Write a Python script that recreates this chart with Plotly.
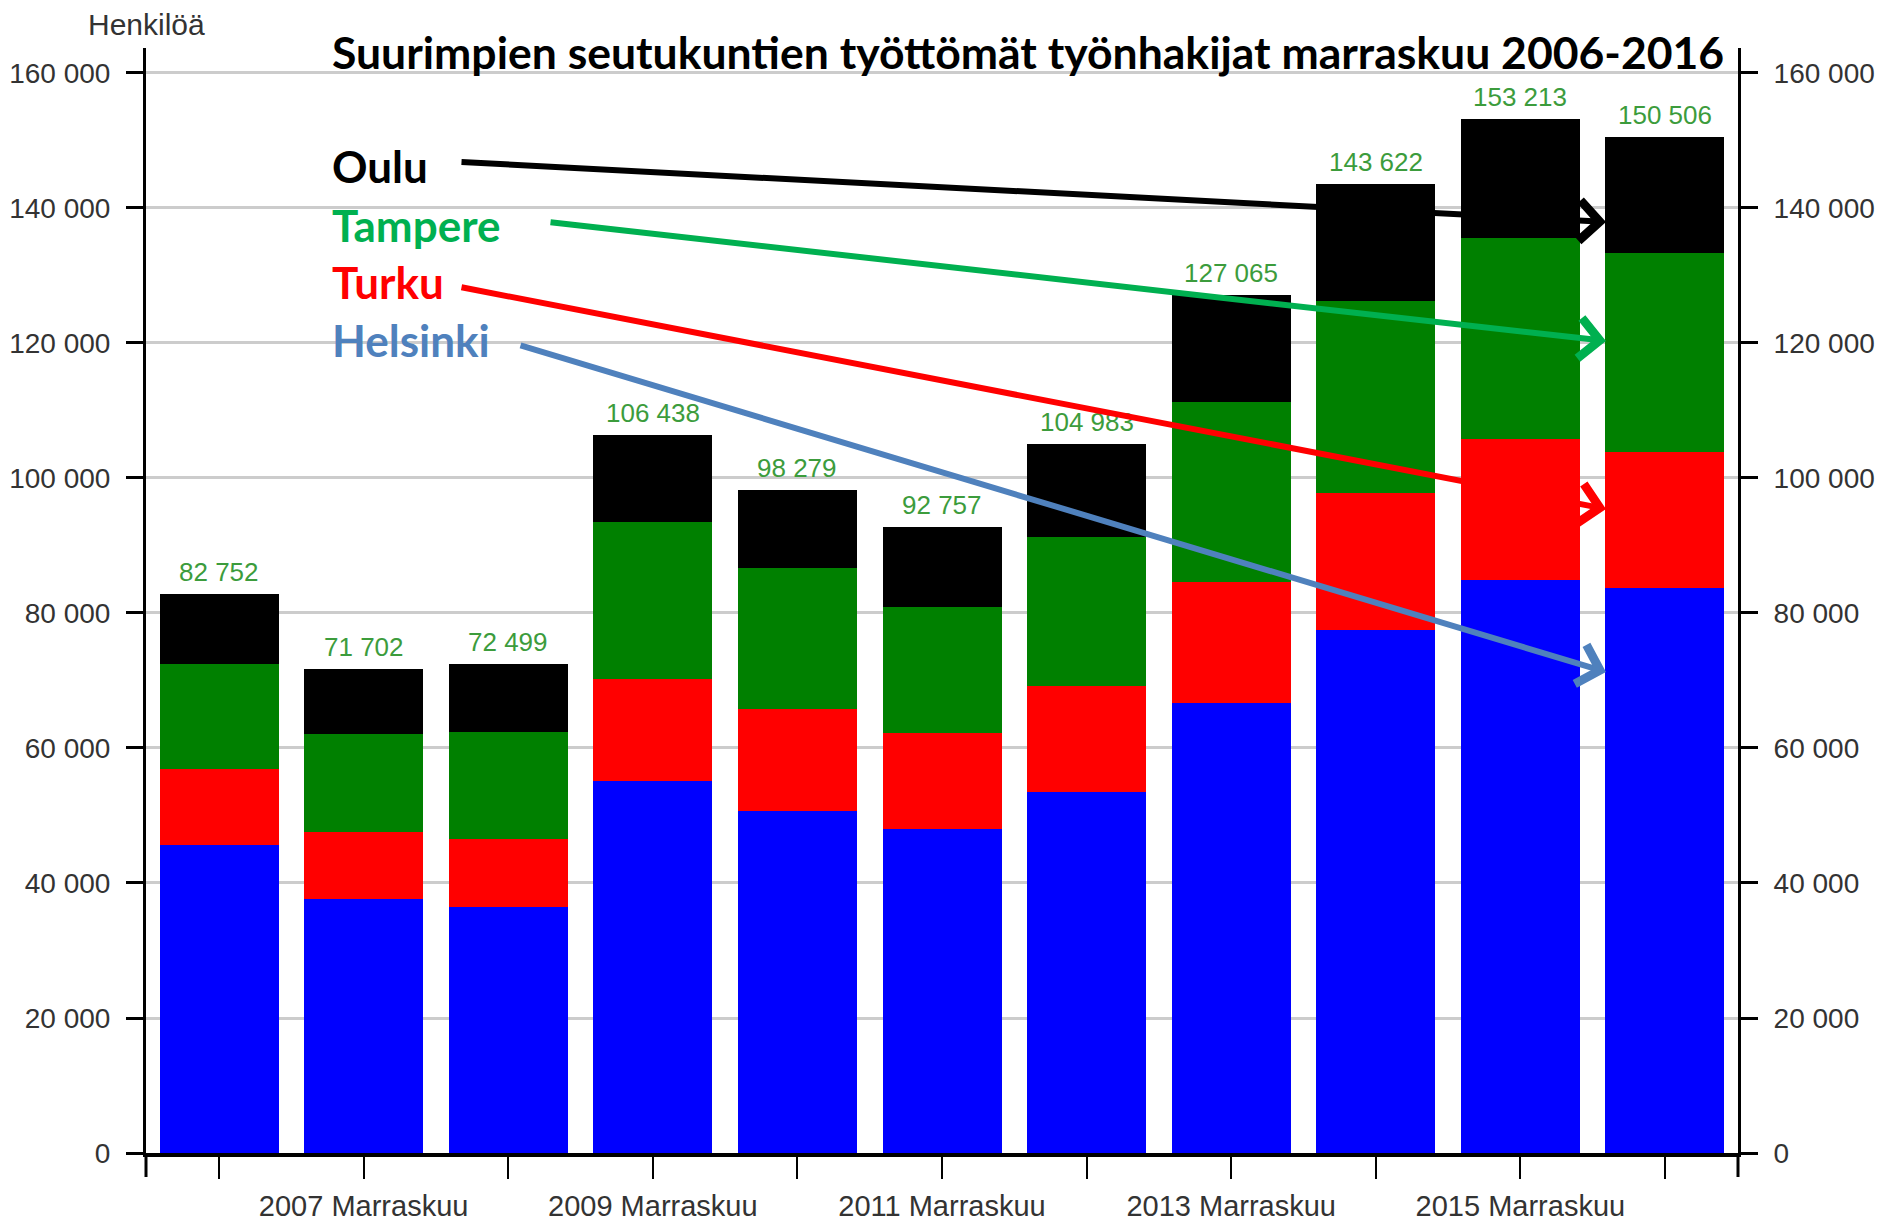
import plotly.graph_objects as go

years = [f"{y} Marraskuu" for y in range(2006, 2017)]
x_tick_labels = ["", "2007 Marraskuu", "", "2009 Marraskuu", "", "2011 Marraskuu",
                 "", "2013 Marraskuu", "", "2015 Marraskuu", ""]
helsinki = [45630, 37590, 36490, 55160, 50670, 47960, 53480, 66710, 77480, 84890, 83750]
turku = [11210, 9920, 9980, 15110, 15060, 14210, 15700, 17930, 20250, 20890, 20060]
tampere = [15600, 14560, 15860, 23260, 20890, 18780, 22030, 26660, 28490, 29730, 29480]
oulu = [10312, 9632, 10169, 12908, 11659, 11807, 13773, 15765, 17402, 17703, 17216]
totals = [82752, 71702, 72499, 106438, 98279, 92757, 104983, 127065, 143622, 153213, 150506]
y_ticks = [0, 20000, 40000, 60000, 80000, 100000, 120000, 140000, 160000]
y_tick_labels = ["0", "20 000", "40 000", "60 000", "80 000", "100 000", "120 000", "140 000", "160 000"]

title_text = "Suurimpien seutukuntien työttömät työnhakijat marraskuu 2006-2016"
legend_names = ["Oulu", "Tampere", "Turku", "Helsinki"]
legend_colors = ["#000000", "#00b050", "#ff0000", "#4f81bd"]

W, H = 1883, 1225
L, R, T, B = 146, 1738, 48, 1153
YMAX = 163700


def px(xp):
    return (xp - L) / (R - L)


def py(yp):
    return (B - yp) / (B - T)


fig = go.Figure()
for name, vals, col in [("Helsinki", helsinki, "#0000ff"), ("Turku", turku, "#ff0000"),
                        ("Tampere", tampere, "#008000"), ("Oulu", oulu, "#000000")]:
    fig.add_trace(go.Bar(x=years, y=vals, name=name, marker=dict(color=col, line=dict(width=0)),
                         showlegend=False))

# invisible trace to anchor the right axis
fig.add_trace(go.Scatter(x=years, y=totals, mode="markers", yaxis="y2", showlegend=False,
                         marker=dict(opacity=0), hoverinfo="skip"))

fmt = lambda v: f"{v:,}".replace(",", " ")
for yr, tot in zip(years, totals):
    fig.add_annotation(x=yr, y=tot, xref="x", yref="y", text=fmt(tot), showarrow=False,
                       yanchor="bottom", yshift=5,
                       font=dict(family="Liberation Sans, Arial", size=26, color="#3c9c3c"))

yfont = dict(family="Liberation Sans, Arial", size=28, color="#333333")
xfont = dict(family="Liberation Sans, Arial", size=29, color="#333333")
fig.update_layout(
    width=W, height=H,
    margin=dict(l=L, r=W - R, t=T, b=H - B, pad=0, autoexpand=False),
    paper_bgcolor="white", plot_bgcolor="white",
    barmode="stack", bargap=0.177,
    xaxis=dict(type="category", range=[-0.505, 10.505], tickvals=years, ticktext=x_tick_labels,
               ticks="outside", ticklen=22, tickwidth=2, tickcolor="black", automargin=False,
               showline=True, linecolor="black", linewidth=4, showgrid=False,
               tickfont=xfont, ticklabelstandoff=2),
    yaxis=dict(range=[0, YMAX], tickvals=y_ticks, ticktext=y_tick_labels, automargin=False,
               ticks="outside", ticklen=17, tickwidth=3, tickcolor="black",
               showline=True, linecolor="black", linewidth=3,
               showgrid=True, gridcolor="#cccccc", gridwidth=3, zeroline=False,
               tickfont=yfont, ticklabelstandoff=10),
    yaxis2=dict(range=[0, YMAX], tickvals=y_ticks, ticktext=y_tick_labels, overlaying="y", side="right",
                ticks="outside", ticklen=17, tickwidth=3, tickcolor="black", automargin=False,
                showline=True, linecolor="black", linewidth=3, showgrid=False, zeroline=False,
                tickfont=yfont, ticklabelstandoff=10),
)

# boundary ticks of x axis
for xb in (0, 1):
    fig.add_shape(type="line", xref="paper", yref="paper", x0=xb, x1=xb, y0=0, y1=-24 / (B - T),
                  line=dict(color="black", width=3))

fig.add_annotation(xref="paper", yref="paper", x=px(146), y=py(24), text="Henkilöä", showarrow=False,
                   font=dict(family="Liberation Sans, Arial", size=30, color="#333333"),
                   xanchor="center", yanchor="middle")
fig.add_annotation(xref="paper", yref="paper", x=px(330), y=py(52), text=f"<b>{title_text}</b>",
                   showarrow=False, font=dict(family="Lato", size=44.5, color="black"),
                   xanchor="left", yanchor="middle")

legend_y = [166, 225, 282, 340]
for name, col, ly in zip(legend_names, legend_colors, legend_y):
    fig.add_annotation(xref="paper", yref="paper", x=px(330), y=py(ly), text=f"<b>{name}</b>",
                       showarrow=False, font=dict(family="Lato", size=44, color=col),
                       xanchor="left", yanchor="middle")

# arrows: (start px, start py, end py); end x at left edge of last bar
arrows = [(460, 162, 222), (549, 222, 341), (460, 287, 509), (519, 345, 672)]
for (sx, sy, ey), col in zip(arrows, legend_colors):
    fig.add_annotation(xref="paper", yref="paper", x=px(1606), y=py(ey),
                       axref="pixel", ayref="pixel", ax=sx - 1606, ay=sy - ey,
                       showarrow=True, arrowhead=4, arrowsize=1.3, arrowwidth=6, arrowcolor=col,
                       text="", standoff=0)

fig.write_html("out.html", config={"displayModeBar": False},
               post_script="document.body.style.margin='0';")
